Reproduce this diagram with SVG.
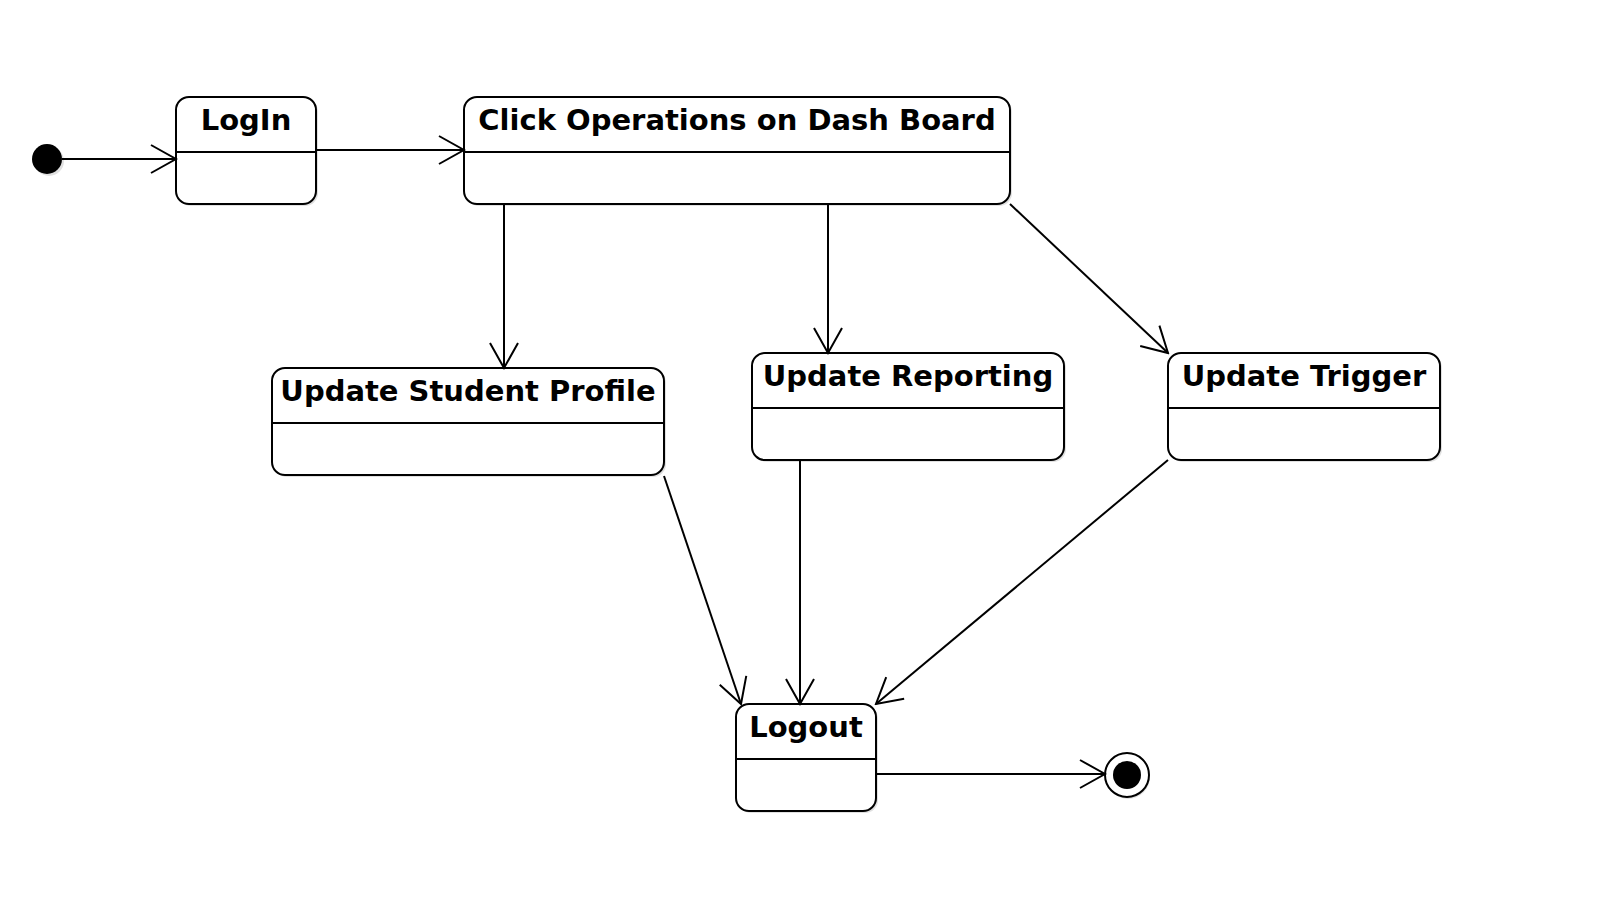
<svg xmlns="http://www.w3.org/2000/svg" width="1600" height="908" viewBox="0 0 1600 908">
<style>
.box{fill:#fff;stroke:#000;stroke-width:2}
.shadow{fill:#000;opacity:0.12}
.div{stroke:#000;stroke-width:2}
.lbl{font-family:"DejaVu Sans",sans-serif;font-weight:bold;font-size:29px;fill:#000;text-anchor:middle}
.edge{fill:none;stroke:#000;stroke-width:2;marker-end:url(#arr)}
</style>
<defs>
<marker id="arr" markerUnits="userSpaceOnUse" viewBox="-28 -16 30 32" markerWidth="30" markerHeight="32" refX="0" refY="0" orient="auto">
<path d="M-25,-14 L0,0 L-25,14" fill="none" stroke="#000" stroke-width="2"/>
</marker>
</defs>
<rect width="1600" height="908" fill="#fff"/>

<g id="initial">
<circle cx="49" cy="161" r="15" class="shadow"/>
<circle cx="47" cy="159" r="15" fill="#000"/>
</g>

<g id="login">
<rect x="178" y="99" width="140" height="107" rx="13" class="shadow"/>
<rect x="176" y="97" width="140" height="107" rx="13" class="box"/>
<line x1="176" y1="152" x2="316" y2="152" class="div"/>
<text x="246" y="130" class="lbl">LogIn</text>
</g>

<g id="click">
<rect x="466" y="99" width="546" height="107" rx="13" class="shadow"/>
<rect x="464" y="97" width="546" height="107" rx="13" class="box"/>
<line x1="464" y1="152" x2="1010" y2="152" class="div"/>
<text x="737" y="130" class="lbl">Click Operations on Dash Board</text>
</g>

<g id="student">
<rect x="274" y="370" width="392" height="107" rx="13" class="shadow"/>
<rect x="272" y="368" width="392" height="107" rx="13" class="box"/>
<line x1="272" y1="423" x2="664" y2="423" class="div"/>
<text x="468" y="401" class="lbl">Update Student Profile</text>
</g>

<g id="reporting">
<rect x="754" y="355" width="312" height="107" rx="13" class="shadow"/>
<rect x="752" y="353" width="312" height="107" rx="13" class="box"/>
<line x1="752" y1="408" x2="1064" y2="408" class="div"/>
<text x="908" y="386" class="lbl">Update Reporting</text>
</g>

<g id="trigger">
<rect x="1170" y="355" width="272" height="107" rx="13" class="shadow"/>
<rect x="1168" y="353" width="272" height="107" rx="13" class="box"/>
<line x1="1168" y1="408" x2="1440" y2="408" class="div"/>
<text x="1304" y="386" class="lbl">Update Trigger</text>
</g>

<g id="logout">
<rect x="738" y="706" width="140" height="107" rx="13" class="shadow"/>
<rect x="736" y="704" width="140" height="107" rx="13" class="box"/>
<line x1="736" y1="759" x2="876" y2="759" class="div"/>
<text x="806" y="737" class="lbl">Logout</text>
</g>

<g id="final">
<circle cx="1128" cy="777" r="22" class="shadow"/>
<circle cx="1127" cy="775" r="22" fill="#fff" stroke="#000" stroke-width="2"/>
<circle cx="1127" cy="775" r="14" fill="#000"/>
</g>

<g id="connectors">
<path d="M62,159 L176,159" class="edge"/>
<path d="M316,150 L464,150" class="edge"/>
<path d="M504,204 L504,368" class="edge"/>
<path d="M828,204 L828,353" class="edge"/>
<path d="M1010,204 L1168,353" class="edge"/>
<path d="M664,476 L741,704" class="edge"/>
<path d="M800,460 L800,704" class="edge"/>
<path d="M1168,460 L876,704" class="edge"/>
<path d="M876,774 L1105,774" class="edge"/>
</g>
</svg>
